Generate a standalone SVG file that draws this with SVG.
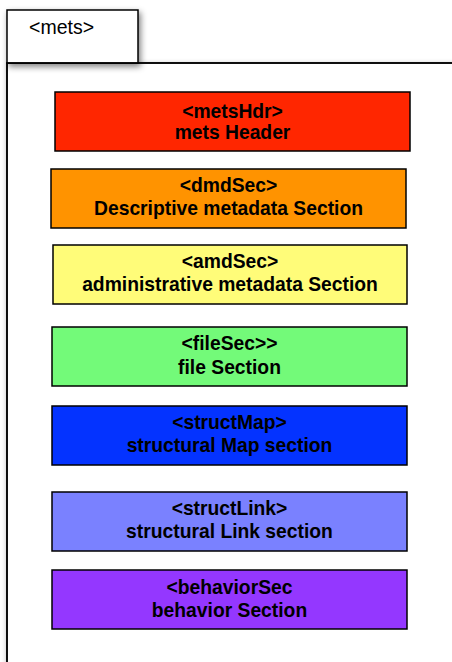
<svg xmlns="http://www.w3.org/2000/svg" width="452" height="662" viewBox="0 0 452 662">
<defs>
<filter id="sh" x="-20%" y="-20%" width="140%" height="160%">
<feGaussianBlur in="SourceAlpha" stdDeviation="3"/>
<feOffset dx="2" dy="3" result="b"/>
<feComponentTransfer><feFuncA type="linear" slope="0.5"/></feComponentTransfer>
<feMerge><feMergeNode/><feMergeNode in="SourceGraphic"/></feMerge>
</filter>
<style>
.box{stroke:#000;stroke-width:1.5}
.t{font-family:"Liberation Sans",Arial,sans-serif;font-weight:bold;font-size:19.3px;text-anchor:middle;fill:#000}
.tab{font-family:"Liberation Sans",Arial,sans-serif;font-size:19.5px;fill:#000}
</style>
</defs>
<rect width="452" height="662" fill="#fff"/>
<g id="mets">
<path d="M7,700 V63 H480 V700 Z" fill="#fff" stroke="#000" stroke-width="1.5" filter="url(#sh)"/>
<rect x="7" y="10" width="131" height="53" fill="#fff" stroke="#000" stroke-width="1.5" filter="url(#sh)"/>
<path d="M7,662 V63 H452" fill="none" stroke="#000" stroke-width="1.5"/>
<text class="tab" x="29" y="34">&lt;mets&gt;</text>
</g>
<g id="metsHdr">
<rect class="box" x="55" y="92" width="355" height="59" fill="#FF2600"/>
<text class="t" x="232.5" y="118">&lt;metsHdr&gt;</text>
<text class="t" x="232.5" y="139">mets Header</text>
</g>
<g id="dmdSec">
<rect class="box" x="51" y="169" width="355" height="59" fill="#FF9300"/>
<text class="t" x="228.5" y="192">&lt;dmdSec&gt;</text>
<text class="t" x="228.5" y="215">Descriptive metadata Section</text>
</g>
<g id="amdSec">
<rect class="box" x="53" y="245" width="354" height="59" fill="#FFFC79"/>
<text class="t" x="230" y="268">&lt;amdSec&gt;</text>
<text class="t" x="230" y="291">administrative metadata Section</text>
</g>
<g id="fileSec">
<rect class="box" x="52" y="327" width="355" height="59" fill="#73FA79"/>
<text class="t" x="229.5" y="350">&lt;fileSec&gt;&gt;</text>
<text class="t" x="229.5" y="374">file Section</text>
</g>
<g id="structMap">
<rect class="box" x="52" y="406" width="355" height="59" fill="#0433FF"/>
<text class="t" x="229.5" y="429">&lt;structMap&gt;</text>
<text class="t" x="229.5" y="452">structural Map section</text>
</g>
<g id="structLink">
<rect class="box" x="52" y="492" width="355" height="59" fill="#7A81FF"/>
<text class="t" x="229.5" y="515">&lt;structLink&gt;</text>
<text class="t" x="229.5" y="538">structural Link section</text>
</g>
<g id="behaviorSec">
<rect class="box" x="52" y="570" width="355" height="59" fill="#9437FF"/>
<text class="t" x="229.5" y="594">&lt;behaviorSec</text>
<text class="t" x="229.5" y="617">behavior Section</text>
</g>
<g id="connectors"/>
</svg>
